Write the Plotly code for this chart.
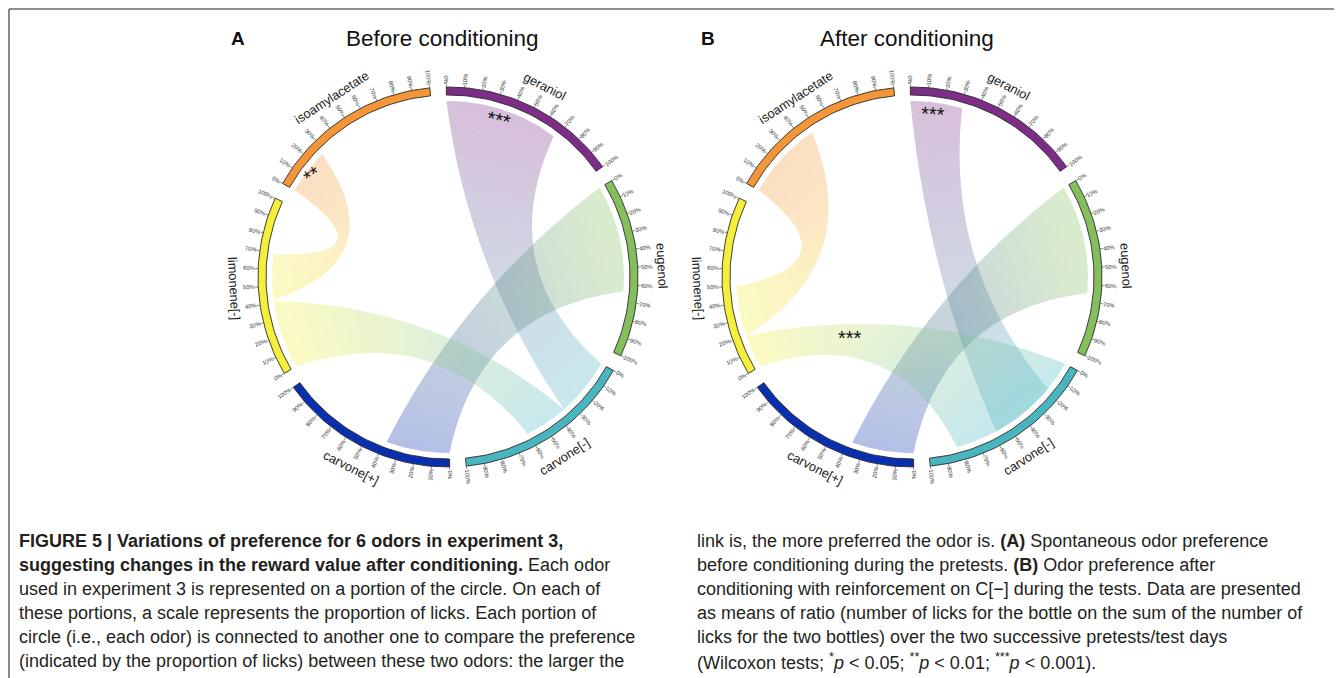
import numpy as np
import plotly.graph_objects as go

# ---------------- data ----------------
odors = ["geraniol", "eugenol", "carvone[-]", "carvone[+]", "limonene[-]", "isoamylacetate"]
odor_colors = ["#7D2D87", "#84BF5B", "#49B5BF", "#0A2FAE", "#F4EF3A", "#F39539"]
scale_ticks = [0, 10, 20, 30, 40, 50, 60, 70, 80, 90, 100]
scale_labels = ["0%", "10%", "20%", "30%", "40%", "50%", "60%", "70%", "80%", "90%", "100%"]

panel_letters = ["A", "B"]
panel_titles = ["Before conditioning", "After conditioning"]

# panel A (before conditioning): link ends in % of each odor's scale
a_from = ["isoamylacetate", "geraniol", "eugenol", "limonene[-]"]
a_to = ["limonene[-]", "carvone[-]", "carvone[+]", "carvone[-]"]
a_from_lo = [0, 0, 0, 0]
a_from_hi = [27, 68, 64, 41]
a_to_lo = [42, 0, 0, 35]
a_to_hi = [69, 35, 38, 61]
a_stars = ["**", "***"]

# panel B (after conditioning)
b_from = ["isoamylacetate", "geraniol", "eugenol", "limonene[-]"]
b_to = ["limonene[-]", "carvone[-]", "carvone[+]", "carvone[-]"]
b_from_lo = [0, 0, 0, 0]
b_from_hi = [47, 31, 65, 20]
b_to_lo = [20, 18, 0, 0]
b_to_hi = [50, 58, 37, 83]
b_stars = ["***", "***"]

caption_left = [
    "<b>FIGURE 5 | Variations of preference for 6 odors in experiment 3,</b>",
    "<b>suggesting changes in the reward value after conditioning.</b> Each odor",
    "used in experiment 3 is represented on a portion of the circle. On each of",
    "these portions, a scale represents the proportion of licks. Each portion of",
    "circle (i.e., each odor) is connected to another one to compare the preference",
    "(indicated by the proportion of licks) between these two odors: the larger the",
]
caption_right = [
    "link is, the more preferred the odor is. <b>(A)</b> Spontaneous odor preference",
    "before conditioning during the pretests. <b>(B)</b> Odor preference after",
    "conditioning with reinforcement on C[\u2212] during the tests. Data are presented",
    "as means of ratio (number of licks for the bottle on the sum of the number of",
    "licks for the two bottles) over the two successive pretests/test days",
    "(Wilcoxon tests; <sup>*</sup><i>p</i> &lt; 0.05; <sup>**</sup><i>p</i> &lt; 0.01; <sup>***</sup><i>p</i> &lt; 0.001).",
]

# ---------------- layout constants ----------------
W, H = 1342, 678
OFF = 8                      # page body margin of the html file
PANEL_CX = [448, 912]
LETTER_X = [238, 708]
TITLE_X = [442, 907]
CY = 277
R_OUT, R_IN, R_LINK = 190, 182, 176
R_NAME = 214
SEG_SPAN, GAP = 55.0, 5.0
FIRST_START = 90.5
K_CTRL = 0.35
ALPHA = 0.30
FONT = "Liberation Sans, Arial, sans-serif"
CAP_SIZE = 18
TICK_SIZE = 5.8
NAME_SIZE = 12.8
STAR_POS = [[(312, 175, -32), (499, 120, 12)], [(933, 114, 4), (850, 338, 0)]]

seg_start = {o: FIRST_START - i * (SEG_SPAN + GAP) for i, o in enumerate(odors)}
col_of = dict(zip(odors, odor_colors))


def ang(odor, pct):
    return seg_start[odor] - pct / 100.0 * SEG_SPAN


def pt(cx, r, th):
    t = np.radians(th)
    return cx + r * np.cos(t), CY - r * np.sin(t)


def arc(cx, r, th0, th1, n=40):
    ths = np.linspace(th0, th1, n)
    t = np.radians(ths)
    return list(cx + r * np.cos(t)), list(CY - r * np.sin(t))


def ctrl(cx, th1, th2):
    d = ((th2 - th1 + 180) % 360) - 180
    mid = th1 + d / 2
    rm = R_LINK * np.cos(np.radians(abs(d) / 2))
    return pt(cx, K_CTRL * rm, mid)


def hex2rgb(h):
    h = h.lstrip("#")
    return [int(h[i:i + 2], 16) for i in (0, 2, 4)]


def bez(p0, c, p2, t):
    t = np.asarray(t)
    x = (1 - t) ** 2 * p0[0] + 2 * (1 - t) * t * c[0] + t ** 2 * p2[0]
    y = (1 - t) ** 2 * p0[1] + 2 * (1 - t) * t * c[1] + t ** 2 * p2[1]
    return list(x), list(y)


fig = go.Figure()
annotations = []


def add_links(cx, frm, to, flo, fhi, tlo, thi, n=48):
    for f, tt_, a_lo, a_hi, b_lo, b_hi in zip(frm, to, flo, fhi, tlo, thi):
        tA1, tA2 = ang(f, a_lo), ang(f, a_hi)
        tB1, tB2 = ang(tt_, b_lo), ang(tt_, b_hi)
        PA1, PA2 = pt(cx, R_LINK, tA1), pt(cx, R_LINK, tA2)
        PB1, PB2 = pt(cx, R_LINK, tB1), pt(cx, R_LINK, tB2)
        CL = ctrl(cx, tA1, tB2)
        CR = ctrl(cx, tA2, tB1)
        ca, cb = np.array(hex2rgb(col_of[f])), np.array(hex2rgb(col_of[tt_]))
        ts = np.linspace(0, 1, n + 1)
        for i in range(n):
            seg = np.linspace(ts[i], ts[i + 1], 5)
            xs, ys = [], []
            if i == 0:
                ax, ay = arc(cx, R_LINK, tA2, tA1)
                xs += ax; ys += ay
            lx, ly = bez(PA1, CL, PB2, seg)
            xs += lx; ys += ly
            if i == n - 1:
                bx, by = arc(cx, R_LINK, tB2, tB1)
                xs += bx; ys += by
            rx, ry = bez(PA2, CR, PB1, seg[::-1])
            xs += rx; ys += ry
            m = (ts[i] + ts[i + 1]) / 2
            rgb = (1 - m) * ca + m * cb
            fc = "rgba(%d,%d,%d,%.3f)" % (rgb[0], rgb[1], rgb[2], ALPHA)
            fig.add_trace(go.Scatter(x=xs, y=ys, mode="lines", fill="toself", fillcolor=fc,
                                     line=dict(width=0, color=fc), hoverinfo="skip",
                                     showlegend=False))


def add_sectors(cx):
    tick_x, tick_y = [], []
    for o in odors:
        th0, th1 = ang(o, 0), ang(o, 100)
        ox, oy = arc(cx, R_OUT, th0, th1)
        ix, iy = arc(cx, R_IN, th1, th0)
        fig.add_trace(go.Scatter(x=ox + ix + [ox[0]], y=oy + iy + [oy[0]], mode="lines",
                                 fill="toself", fillcolor=col_of[o],
                                 line=dict(color="#2a2a2a", width=0.9),
                                 hoverinfo="skip", showlegend=False))
        for v, lab in zip(scale_ticks, scale_labels):
            th = ang(o, v)
            x0, y0 = pt(cx, R_OUT, th)
            x1, y1 = pt(cx, R_OUT + 3, th)
            tick_x += [x0, x1, None]; tick_y += [y0, y1, None]
            wlab = len(lab) * 3.2
            lx, ly = pt(cx, R_OUT + 4.0 + wlab / 2, th)
            a = -th
            a = (a + 180) % 360 - 180
            if a > 90:
                a -= 180
            elif a < -90:
                a += 180
            annotations.append(dict(x=lx, y=ly, text=lab, showarrow=False, textangle=a,
                                    font=dict(family=FONT, size=TICK_SIZE, color="#333"),
                                    xanchor="center", yanchor="middle"))
        mid = ang(o, 50)
        nx, ny = pt(cx, R_NAME, mid)
        if np.sin(np.radians(mid)) >= 0:
            ta = 90 - mid
        else:
            ta = -(mid + 90)
        ta = (ta + 180) % 360 - 180
        annotations.append(dict(x=nx, y=ny, text=o, showarrow=False, textangle=ta,
                                font=dict(family=FONT, size=NAME_SIZE, color="#1a1a1a"),
                                xanchor="center", yanchor="middle"))
    fig.add_trace(go.Scatter(x=tick_x, y=tick_y, mode="lines",
                             line=dict(color="#555", width=0.7),
                             hoverinfo="skip", showlegend=False))


panels = [
    (a_from, a_to, a_from_lo, a_from_hi, a_to_lo, a_to_hi, a_stars),
    (b_from, b_to, b_from_lo, b_from_hi, b_to_lo, b_to_hi, b_stars),
]
for k, (frm, to, flo, fhi, tlo, thi, stars) in enumerate(panels):
    cx = PANEL_CX[k]
    add_links(cx, frm, to, flo, fhi, tlo, thi)
    add_sectors(cx)
    for s, (sx, sy, sa) in zip(stars, STAR_POS[k]):
        annotations.append(dict(x=sx, y=sy, text=s, showarrow=False, textangle=sa,
                                font=dict(family=FONT, size=20, color="#111"),
                                xanchor="center", yanchor="middle"))
    annotations.append(dict(x=LETTER_X[k], y=38, text="<b>%s</b>" % panel_letters[k], showarrow=False,
                            font=dict(family=FONT, size=19, color="#111"),
                            xanchor="center", yanchor="middle"))
    annotations.append(dict(x=TITLE_X[k], y=38, text=panel_titles[k], showarrow=False,
                            font=dict(family=FONT, size=22.5, color="#111"),
                            xanchor="center", yanchor="middle"))

for i, line in enumerate(caption_left):
    annotations.append(dict(x=17, y=541 + 24 * i, text=line, showarrow=False,
                            font=dict(family=FONT, size=CAP_SIZE, color="#231f20"),
                            xanchor="left", yanchor="middle"))
for i, line in enumerate(caption_right):
    annotations.append(dict(x=695, y=541 + 24 * i, text=line, showarrow=False,
                            font=dict(family=FONT, size=CAP_SIZE, color="#231f20"),
                            xanchor="left", yanchor="middle"))

fig.update_layout(
    width=W - OFF, height=H - OFF, margin=dict(l=0, r=0, t=0, b=0),
    paper_bgcolor="white", plot_bgcolor="white",
    xaxis=dict(range=[OFF, W], visible=False, fixedrange=True),
    yaxis=dict(range=[H, OFF], visible=False, fixedrange=True),
    annotations=annotations,
    shapes=[
        dict(type="line", xref="x", yref="y", x0=9, x1=W, y0=9, y1=9,
             line=dict(color="#6a6a6a", width=1.6)),
        dict(type="line", xref="x", yref="y", x0=9, x1=9, y0=9, y1=H,
             line=dict(color="#6a6a6a", width=1.6)),
    ],
)
fig.write_html("out.html")
